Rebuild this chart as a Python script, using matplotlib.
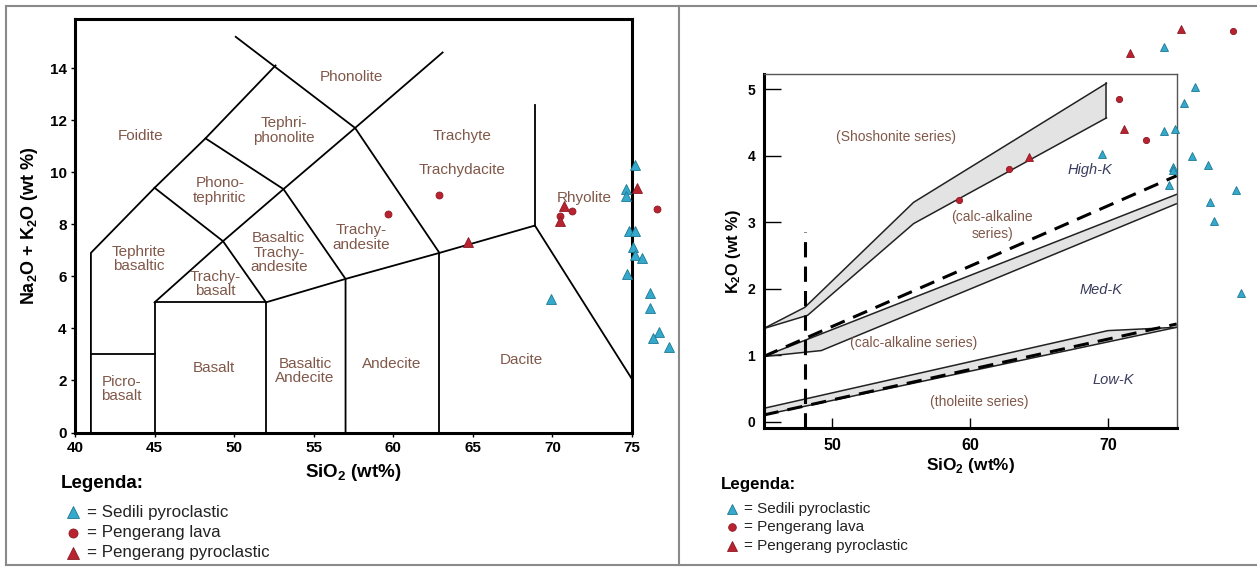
import matplotlib
matplotlib.use("Agg")
import matplotlib.pyplot as plt
from matplotlib.lines import Line2D

plt.rcParams['font.family'] = ['Liberation Sans', 'DejaVu Sans']
plt.rcParams['mathtext.fontset'] = 'custom'
plt.rcParams['mathtext.rm'] = 'Liberation Sans'
plt.rcParams['mathtext.bf'] = 'Liberation Sans:bold'

# ---- TAS diagram (left) ----
tas_lines = [
    [(41, 0), (41, 6.9), (45, 9.4), (48.2, 11.3), (52.6, 14.1)],
    [(41, 3), (45, 3)],
    [(45, 0), (45, 5), (52, 5), (52, 0)],
    [(45, 5), (49.3, 7.35), (53.1, 9.35), (57.6, 11.7), (63.1, 14.6)],
    [(50.1, 15.2), (57.6, 11.7), (62.9, 6.9)],
    [(45, 9.4), (49.3, 7.35), (52, 5)],
    [(48.2, 11.3), (53.1, 9.35), (57, 5.9), (57, 0)],
    [(52, 5), (57, 5.9), (62.9, 6.9), (68.9, 7.95), (75, 2.05)],
    [(62.9, 0), (62.9, 6.9)],
    [(68.9, 7.95), (68.9, 12.6)],
]
tas_names = ["Phonolite", "Foidite", "Tephri-\nphonolite", "Trachyte", "Trachydacite",
             "Phono-\ntephritic", "Rhyolite", "Trachy-\nandesite", "Basaltic\nTrachy-\nandesite",
             "Tephrite\nbasaltic", "Trachy-\nbasalt", "Basalt", "Picro-\nbasalt",
             "Basaltic\nAndecite", "Andecite", "Dacite"]
tas_name_x = [57.35, 44.15, 53.1, 64.35, 64.35, 49.1, 72.0, 57.96, 52.8, 44.0, 48.8, 48.7, 42.9, 54.45, 59.9, 68.05]
tas_name_y = [13.65, 11.4, 11.6, 11.4, 10.1, 9.3, 9.0, 7.5, 6.9, 6.67, 5.7, 2.47, 1.67, 2.36, 2.64, 2.78]

tas_sedili_x = [75.2, 74.6, 74.6, 74.8, 75.2, 75.05, 75.2, 75.6, 74.7, 69.9, 76.1, 76.1, 76.7, 76.3, 77.3]
tas_sedili_y = [10.27, 9.35, 9.1, 7.76, 7.76, 7.12, 6.8, 6.7, 6.1, 5.14, 5.36, 4.8, 3.88, 3.62, 3.3]
tas_lava_x = [59.65, 62.85, 70.45, 71.25, 76.55]
tas_lava_y = [8.4, 9.12, 8.3, 8.5, 8.58]
tas_pyro_x = [64.7, 70.7, 70.45, 75.3]
tas_pyro_y = [7.32, 8.72, 8.13, 9.38]

# ---- K2O vs SiO2 diagram (right) ----
shosh_upper = [(45, 1.40), (48, 1.72), (55.9, 3.3), (69.9, 5.09)]
shosh_lower = [(45, 1.40), (48.2, 1.6), (55.9, 2.98), (69.9, 4.57)]
calc_upper = [(45, 0.98), (75, 3.42)]
calc_lower = [(45, 0.98), (49.2, 1.07), (75, 3.28)]
low_upper = [(45, 0.2), (70, 1.37), (75, 1.42)]
low_lower = [(45, 0.1), (75, 1.42)]
dash_high = [(45, 0.98), (75, 3.7)]
dash_low = [(45, 0.1), (75, 1.47)]
dash_vert = [(48, -0.1), (48, 2.85)]

k_names = ["(Shoshonite series)", "(calc-alkaline\nseries)", "(calc-alkaline series)", "(tholeiite series)"]
k_name_x = [54.6, 61.6, 55.9, 60.7]
k_name_y = [4.28, 2.95, 1.18, 0.29]
k_zones = ["High-K", "Med-K", "Low-K"]
k_zone_x = [68.7, 69.5, 70.4]
k_zone_y = [3.78, 1.98, 0.62]

k_sedili_x = [69.6, 74.1, 76.3, 75.5, 74.1, 74.9, 76.1, 77.3, 74.75, 74.7, 74.45, 79.3, 77.4, 77.7, 79.7]
k_sedili_y = [4.03, 5.64, 5.04, 4.79, 4.37, 4.41, 4.0, 3.86, 3.83, 3.78, 3.56, 3.48, 3.31, 3.02, 1.94]
k_lava_x = [59.2, 62.8, 70.8, 72.8, 79.1]
k_lava_y = [3.34, 3.8, 4.85, 4.24, 5.88]
k_pyro_x = [64.3, 71.2, 71.6, 75.3]
k_pyro_y = [3.98, 4.41, 5.55, 5.91]

legend_labels = ["= Sedili pyroclastic", "= Pengerang lava", "= Pengerang pyroclastic"]

blue = '#35a9cc'
blue_edge = '#1d7893'
red = '#b8232f'
red_edge = '#8c1a24'
label_brown = '#80584a'
zone_col = '#3a3d5c'

W, H = 1257, 568
fig = plt.figure(figsize=(W / 100, H / 100), dpi=100)


def fx(px):
    return px / W


def fy(py):
    return 1 - py / H


# panel frames
for seg in [([6, 1257], [6, 6]), ([6, 6], [6, 565]), ([679, 679], [6, 565]), ([6, 1257], [565, 565])]:
    fig.add_artist(Line2D([fx(v) for v in seg[0]], [fy(v) for v in seg[1]], color='#8a8a8a', lw=1.5))

# left axes
ax1 = fig.add_axes([fx(75), fy(432.5), fx(557), (432.5 - 19.4) / H])
for pts in tas_lines:
    ax1.plot([p[0] for p in pts], [p[1] for p in pts], color='black', lw=1.3)
for name, x, y in zip(tas_names, tas_name_x, tas_name_y):
    ax1.text(x, y, name, ha='center', va='center', fontsize=11, color=label_brown, linespacing=1.05)
ax1.plot(tas_sedili_x, tas_sedili_y, '^', ls='none', ms=6.5, mfc=blue, mec=blue_edge, mew=0.6, clip_on=False, zorder=5)
ax1.plot(tas_lava_x, tas_lava_y, 'o', ls='none', ms=5, mfc=red, mec=red_edge, mew=0.6, clip_on=False, zorder=5)
ax1.plot(tas_pyro_x, tas_pyro_y, '^', ls='none', ms=6.5, mfc=red, mec=red_edge, mew=0.6, clip_on=False, zorder=5)
ax1.set_xlim(40, 75)
ax1.set_ylim(0, 15.87)
ax1.set_xticks(range(40, 76, 5))
ax1.set_yticks(range(0, 15, 2))
ax1.tick_params(direction='out', length=3, width=1, labelsize=11, pad=3)
for lab in ax1.get_xticklabels() + ax1.get_yticklabels():
    lab.set_fontweight('bold')
for sp in ax1.spines.values():
    sp.set_linewidth(2.2)
ax1.set_xlabel(r'SiO$_\mathbf{2}$ (wt%)', fontsize=13.5, fontweight='bold', labelpad=5)
ax1.set_ylabel(r'Na$_\mathbf{2}$O + K$_\mathbf{2}$O (wt %)', fontsize=13, fontweight='bold', labelpad=7)

# right axes
ax2 = fig.add_axes([fx(763.5), fy(428.35), fx(413.2), 354.35 / H])
ax2.fill(*zip(*(shosh_upper + shosh_lower[::-1])), color='#e3e3e3', lw=0)
ax2.fill(*zip(*(calc_upper + calc_lower[::-1])), color='#e3e3e3', lw=0)
ax2.fill(*zip(*(low_upper + low_lower[::-1])), color='#e3e3e3', lw=0)
for pts in [shosh_upper, shosh_lower, calc_upper, calc_lower, low_upper, low_lower]:
    ax2.plot([p[0] for p in pts], [p[1] for p in pts], color='#222222', lw=1.1)
ax2.plot([shosh_upper[-1][0], shosh_lower[-1][0]], [shosh_upper[-1][1], shosh_lower[-1][1]], color='#222222', lw=1.1)
for pts in [dash_high, dash_low, dash_vert]:
    ax2.plot([p[0] for p in pts], [p[1] for p in pts], color='black', lw=2.2, ls=(0, (5, 3)))
for name, x, y in zip(k_names, k_name_x, k_name_y):
    ax2.text(x, y, name, ha='center', va='center', fontsize=10, color=label_brown, linespacing=1.2)
for name, x, y in zip(k_zones, k_zone_x, k_zone_y):
    ax2.text(x, y, name, ha='center', va='center', fontsize=10.5, color=zone_col, style='italic')
ax2.plot(k_sedili_x, k_sedili_y, '^', ls='none', ms=5.5, mfc=blue, mec=blue_edge, mew=0.6, clip_on=False, zorder=5)
ax2.plot(k_lava_x, k_lava_y, 'o', ls='none', ms=4.5, mfc=red, mec=red_edge, mew=0.6, clip_on=False, zorder=5)
ax2.plot(k_pyro_x, k_pyro_y, '^', ls='none', ms=5.5, mfc=red, mec=red_edge, mew=0.6, clip_on=False, zorder=5)
ax2.set_xlim(45, 75)
ax2.set_ylim(-0.1, 5.23)
ax2.set_xticks([50, 60, 70])
ax2.set_yticks(range(0, 6))
ax2.tick_params(axis='y', direction='in', length=12, width=1, labelsize=10, pad=6)
ax2.tick_params(axis='x', direction='in', length=7, width=1, labelsize=11.5, pad=7)
for lab in ax2.get_xticklabels() + ax2.get_yticklabels():
    lab.set_fontweight('bold')
ax2.spines['left'].set_linewidth(2.2)
ax2.spines['bottom'].set_linewidth(2.2)
ax2.spines['top'].set_linewidth(1)
ax2.spines['right'].set_linewidth(1)
ax2.spines['top'].set_color('#555555')
ax2.spines['right'].set_color('#555555')
ax2.set_xlabel(r'SiO$_\mathbf{2}$ (wt%)', fontsize=12.4, fontweight='bold', labelpad=2)
ax2.set_ylabel(r'K$_\mathbf{2}$O (wt %)', fontsize=11.7, fontweight='bold', labelpad=3)

# legends
styles = [('^', blue, blue_edge), ('o', red, red_edge), ('^', red, red_edge)]
for (tx, ty, tfs, mx, lx, ys, fs, ms_tri, ms_dot) in [
        (61, 484, 13.5, 73, 87, [512, 533, 553], 12.2, 9, 6.5),
        (721, 485, 12.2, 732, 744, [509, 527, 546], 11, 7.5, 5.5)]:
    fig.text(fx(tx), fy(ty), 'Legenda:', fontsize=tfs, fontweight='bold', va='center', ha='left')
    for (mk, fc, ec), lab, yy in zip(styles, legend_labels, ys):
        fig.add_artist(Line2D([fx(mx)], [fy(yy)], marker=mk, ls='none', ms=ms_tri if mk == '^' else ms_dot,
                              mfc=fc, mec=ec, mew=0.6))
        fig.text(fx(lx), fy(yy), lab, fontsize=fs, va='center', ha='left', color='#222222')

fig.savefig('out.png', dpi=100)
